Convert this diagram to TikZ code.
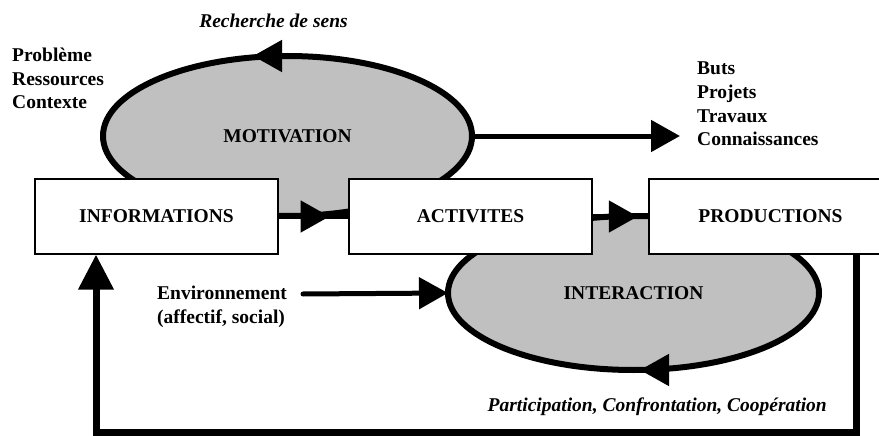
\documentclass[tikz,border=0pt]{standalone}
\usepackage{fontspec}
\setmainfont{Liberation Serif}
\usepackage{xcolor}
\usetikzlibrary{arrows.meta,shapes.geometric,decorations.markings}

\definecolor{loopgray}{RGB}{192,192,192}

\begin{document}
\begin{tikzpicture}[x=1pt, y=-1pt,
    every node/.style={font=\fontsize{19.5}{23.7}\selectfont\bfseries},
    box/.style={draw, fill=white, line width=1.2pt, minimum width=243pt, minimum height=75pt, inner sep=0pt},
    loop/.style={ellipse, draw, fill=loopgray, line width=6pt, outer sep=0pt},
    flow/.style={line width=5pt, -{Triangle[length=29pt, width=31pt]}},
    midflow/.style={line width=5pt, postaction={decorate},
        decoration={markings, mark=at position #1 with {\arrow{Triangle[length=29pt, width=31pt]}}}},
    txt/.style={inner sep=0pt, align=left}]
                \useasboundingbox (0,0) rectangle (879,436);
                \clip (0,0) rectangle (879,436);

                % the two loops, behind the boxes
                \node[loop, minimum width=369pt, minimum height=160pt] (motiv) at (287.5,136) {MOTIVATION};
                \node[loop, minimum width=371pt, minimum height=154pt] (inter) at (633.5,293) {INTERACTION};

                % Boxes
                \node[box] (info) at (156.5,216.5) {INFORMATIONS};
                \node[box] (act) at (470.5,216.5) {ACTIVITES};
                \node[box] (prod) at (770.5,216.5) {PRODUCTIONS};

                % Links between boxes
                \draw[midflow=0.73] (info) -- (act);
                \draw[midflow=0.81] (act) -- (prod);

                % Direction of the loops
                \draw[flow] ([xshift=-5pt]motiv.north) -- ([xshift=-34.5pt]motiv.north);
                \draw[flow] ([xshift=34pt]inter.south) -- ([xshift=6.5pt]inter.south);

                % Labels (base = last line)
                \node[txt, anchor=base west] (input) at (12,109) {Problème\\Ressources\\Contexte};
                \node[txt, anchor=base west] (output) at (697,145.7) {Buts\\Projets\\Travaux\\Connaissances};
                \node[txt, anchor=base west] (env) at (157,323) {Environnement\\(affectif, social)};
                \node[inner sep=0pt, anchor=base] (sens) at (273.5,27.3) {\itshape Recherche de sens};
                \node[inner sep=0pt, anchor=base east] (modes) at (827,411) {\itshape Participation, Confrontation, Coopération};

                % Motivation gives goals
                \coordinate (goal) at (680,136);
                \draw[flow] (motiv.east) -- (goal);

                % Environment feeds interaction
                \coordinate (envstart) at (303,294);
                \draw[flow, line cap=round] (envstart) -- (inter.west);

                % Feedback from productions to informations
                \coordinate (fbright) at (856,432);
                \coordinate (fbleft) at (96,432);
                \draw[line width=7pt, -{Triangle[length=35pt, width=34pt]}] (prod.south -| fbright) -- (fbright) -- (fbleft) -- (info.south -| fbleft);
            \end{tikzpicture}
\end{document}
